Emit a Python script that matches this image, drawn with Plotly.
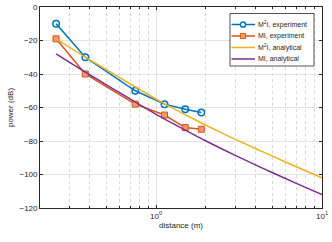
import plotly.graph_objects as go

# experiment data
exp_d = [0.25, 0.375, 0.75, 1.125, 1.5, 1.875]
m2i_exp = [-10, -30, -50, -58, -61, -63]
mi_exp = [-19, -40, -58, -64.5, -72, -73]

# analytical curves
ana_d = [0.25, 0.3, 0.4, 0.5, 0.6, 0.8, 1, 1.5, 2, 3, 4, 5, 7, 10]
m2i_ana = [-19, -23.9, -31.6, -37.3, -42, -49.3, -55, -64.3, -70.6, -79, -84.6, -88.9, -95.4, -102]
mi_ana = [-28, -32.9, -40.6, -46.3, -51, -58.4, -64.1, -73.5, -80, -88.6, -94.4, -98.8, -105.3, -112]

y_ticks = [0, -20, -40, -60, -80, -100, -120]
x_major = [1, 10]
x_major_text = ["10<sup>0</sup>", "10<sup>1</sup>"]
x_minor = [0.2, 0.3, 0.4, 0.5, 0.6, 0.7, 0.8, 0.9, 2, 3, 4, 5, 6, 7, 8, 9]

legend_names = ["M<sup>2</sup>I, experiment", "MI, experiment",
                "M<sup>2</sup>I, analytical", "MI, analytical"]

BLUE = "#0072BD"
ORANGE = "#D95319"
ORANGE_FILL = "#EE9A6E"
YELLOW = "#EDB120"
PURPLE = "#7E2F8E"
AX = "#262626"

W, H = 332, 242
ML, MR, MT, MB = 40, 10, 7, 34
PW, PH = W - ML - MR, H - MT - MB


def px(x):
    return (x - ML) / PW


def py(y):
    return (H - MB - y) / PH


fig = go.Figure()
fig.add_trace(go.Scatter(x=exp_d, y=m2i_exp, mode="lines+markers", name=legend_names[0],
                         line=dict(color=BLUE, width=1.5),
                         marker=dict(symbol="circle-open", size=6.5, color=BLUE, line=dict(width=1.5))))
fig.add_trace(go.Scatter(x=exp_d, y=mi_exp, mode="lines+markers", name=legend_names[1],
                         line=dict(color=ORANGE, width=1.5),
                         marker=dict(symbol="square", size=6, color=ORANGE_FILL, line=dict(color=ORANGE, width=1))))
fig.add_trace(go.Scatter(x=ana_d, y=m2i_ana, mode="lines", name=legend_names[2],
                         line=dict(color=YELLOW, width=1.5, shape="spline", smoothing=0.6)))
fig.add_trace(go.Scatter(x=ana_d, y=mi_ana, mode="lines", name=legend_names[3],
                         line=dict(color=PURPLE, width=1.5, shape="spline", smoothing=0.6)))

# custom compact legend (MATLAB style)
shapes = [dict(type="rect", xref="paper", yref="paper", layer="above",
               x0=px(230), x1=px(314), y0=py(66), y1=py(13.5),
               fillcolor="white", line=dict(color=AX, width=0.8))]
annotations = []
colors = [BLUE, ORANGE, YELLOW, PURPLE]
for i, (name, c) in enumerate(zip(legend_names, colors)):
    yy = 24.5 + 11.5 * i
    shapes.append(dict(type="line", xref="paper", yref="paper", layer="above",
                       x0=px(231.5), x1=px(255), y0=py(yy), y1=py(yy),
                       line=dict(color=c, width=1.5)))
    if i == 0:
        shapes.append(dict(type="circle", xref="paper", yref="paper", layer="above",
                           xsizemode="pixel", ysizemode="pixel",
                           xanchor=px(243), yanchor=py(yy), x0=-2.6, x1=2.6, y0=-2.6, y1=2.6,
                           fillcolor="white", line=dict(color=c, width=1.5)))
    elif i == 1:
        shapes.append(dict(type="rect", xref="paper", yref="paper", layer="above",
                           xsizemode="pixel", ysizemode="pixel",
                           xanchor=px(243), yanchor=py(yy), x0=-2.6, x1=2.6, y0=-2.6, y1=2.6,
                           fillcolor=ORANGE_FILL, line=dict(color=c, width=1)))
    annotations.append(dict(xref="paper", yref="paper", x=px(256), y=py(yy),
                            xanchor="left", yanchor="middle", showarrow=False,
                            text=name, font=dict(size=7, color=AX)))

fig.update_layout(
    width=W, height=H,
    margin=dict(l=ML, r=MR, t=MT, b=MB, autoexpand=False),
    paper_bgcolor="white", plot_bgcolor="white",
    font=dict(family="Liberation Sans, Arial, sans-serif", size=8, color=AX),
    showlegend=False,
    shapes=shapes,
    annotations=annotations,
    xaxis=dict(type="log", range=[-0.69897, 1], automargin=False,
               tickvals=x_major, ticktext=x_major_text,
               ticks="inside", ticklen=3, tickcolor=AX,
               showline=True, linecolor=AX, linewidth=0.8, mirror="ticks",
               showgrid=True, gridcolor="#e3e3e3", gridwidth=1,
               zeroline=False,
               title=dict(text="distance (m)", standoff=2, font=dict(size=8)),
               minor=dict(tickvals=x_minor, ticks="inside", ticklen=2, tickcolor=AX,
                          showgrid=True, gridcolor="#d8d8d8", griddash="dot", gridwidth=0.7)),
    yaxis=dict(range=[-120, 0], tickvals=y_ticks, automargin=False,
               ticks="inside", ticklen=3, tickcolor=AX,
               showline=True, linecolor=AX, linewidth=0.8, mirror="ticks",
               showgrid=True, gridcolor="#e3e3e3", gridwidth=1,
               zeroline=False,
               title=dict(text="power (dB)", standoff=4, font=dict(size=8))),
)

fig.write_html("out.html", config={"displayModeBar": False},
               post_script="document.body.style.margin='0';")
